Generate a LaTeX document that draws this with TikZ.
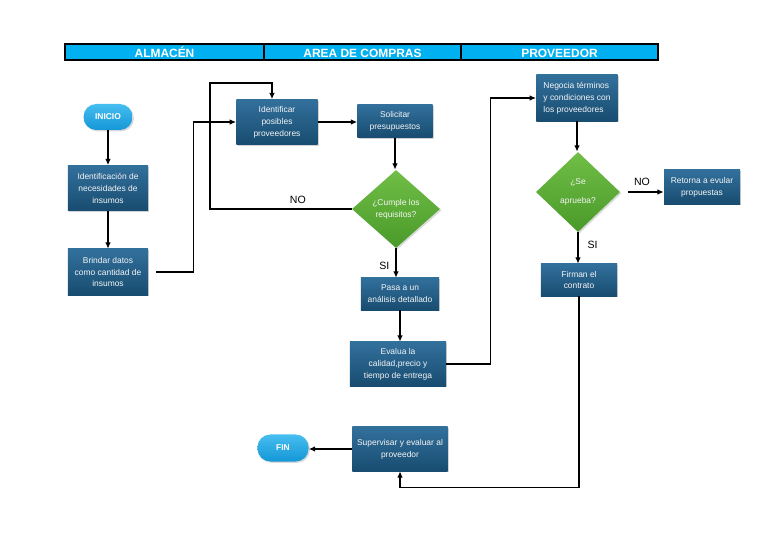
\documentclass[tikz,border=0pt]{standalone}
\usepackage{fontspec}
\setmainfont{Liberation Sans}
\usetikzlibrary{arrows.meta,positioning,shapes.geometric,shadows}
\definecolor{carril}{RGB}{0,176,240}
\definecolor{cajaA}{RGB}{50,112,156}
\definecolor{cajaB}{RGB}{24,76,112}
\definecolor{romboA}{RGB}{112,190,70}
\definecolor{romboB}{RGB}{74,154,42}
\definecolor{pildoraA}{RGB}{70,190,240}
\definecolor{pildoraB}{RGB}{20,150,215}
\tikzset{lane/.style={draw=black,line width=0.8pt,fill=carril,text=white,font=\fontsize{8.5}{10}\selectfont\bfseries,
    minimum height=0.4cm,inner sep=0pt,text height=1.7ex,text depth=0.2ex},
  box/.style={top color=cajaA,bottom color=cajaB,draw=none,align=center,text=white!92!gray,inner sep=2pt,
    drop shadow={opacity=0.35,shadow xshift=1pt,shadow yshift=-1pt}},
  pill/.style={top color=pildoraA,bottom color=pildoraB,rounded corners=0.32cm,text=white,font=\fontsize{6}{7}\selectfont\bfseries,
    drop shadow={opacity=0.3,shadow xshift=1pt,shadow yshift=-1pt}},
  decision/.style={diamond,top color=romboA,bottom color=romboB,align=center,text=white!92!gray,inner sep=0pt,
    drop shadow={opacity=0.3,shadow xshift=1pt,shadow yshift=-1pt}},
  lbl/.style={font=\fontsize{7.5}{8}\selectfont,text=black},
  arr/.style={-{Latex[length=1.6mm,width=1.4mm]},line width=0.9pt}}
\begin{document}
\begin{tikzpicture}[x=0.025cm,y=-0.025cm,font=\fontsize{6}{8.5}\selectfont]
\useasboundingbox (0,0) rectangle (768,543);
% carriles
\node[lane,minimum width=4.975cm] (almacen) at (164.5,52) {ALMACÉN};
\node[lane,minimum width=4.925cm] (compras) at (362.5,52) {AREA DE COMPRAS};
\node[lane,minimum width=4.925cm] (proveedor) at (559.5,52) {PROVEEDOR};
% almacen
\node[pill,minimum width=1.225cm,minimum height=0.65cm] (inicio) at (108,117) {INICIO};
\node[box,minimum width=2cm,minimum height=1.125cm] (necesidades) at (108,188) {Identificación de\\necesidades de\\insumos};
\node[box,minimum width=2cm,minimum height=1.15cm] (brindar) at (108,272) {Brindar datos\\como cantidad de\\insumos};
% area de compras
\node[box,minimum width=2.03cm,minimum height=1.125cm] (identificar) at (277,122) {Identificar\\posibles\\proveedores};
\node[box,minimum width=1.875cm,minimum height=0.825cm] (solicitar) at (395,121) {Solicitar\\presupuestos};
\node[decision,minimum width=2.2cm,minimum height=1.95cm] (cumple) at (396,209) {¿Cumple los\\requisitos?};
\node[box,minimum width=1.95cm,minimum height=0.8cm] (pasa) at (400,294) {Pasa a un\\análisis detallado};
\node[box,minimum width=2.4cm,minimum height=1.1cm] (evalua) at (398,364) {Evalua la\\calidad,precio y\\tiempo de entrega};
\node[box,minimum width=2.375cm,minimum height=1.1cm] (supervisar) at (400,449) {Supervisar y evaluar al\\proveedor};
\node[pill,minimum width=1.275cm,minimum height=0.675cm] (fin) at (283,448) {FIN};
% proveedor
\node[box,minimum width=2.03cm,minimum height=1.15cm,align=left] (negocia) at (577,98) {Negocia términos\\y condiciones con\\los proveedores};
\node[decision,minimum width=2.1cm,minimum height=2.0cm,font=\fontsize{6}{13}\selectfont] (aprueba) at (578,192) {¿Se\\aprueba?};
\node[box,minimum width=1.9cm,minimum height=0.85cm] (retorna) at (702,187) {Retorna a evular\\propuestas};
\node[box,minimum width=1.9cm,minimum height=0.8cm] (firman) at (579,280) {Firman el\\contrato};
\coordinate (vuelta) at (210,83);
% conectores
\draw[arr] (inicio) -- (necesidades);
\draw[arr] (necesidades) -- (brindar);
\draw[arr] ([xshift=0.2cm]brindar.east) -- ++(37,0) |- (identificar.west);
\draw[arr] (identificar.east) -- (identificar.east -| solicitar.west);
\draw[arr] (solicitar.south) -- (solicitar.south |- cumple.north);
\draw[arr] (cumple.west) -- node[lbl,pos=0.38,above]{NO} (cumple.west -| vuelta) -- (vuelta) -| ([xshift=-0.125cm]identificar.north);
\draw[arr] (cumple.south) -- node[lbl,pos=0.6,left=1pt]{SI} (cumple.south |- pasa.north);
\draw[arr] (pasa.south) -- (pasa.south |- evalua.north);
\draw[arr] (evalua.east) -- ++(44,0) |- (negocia.west);
\draw[arr] (negocia.south) -- (negocia.south |- aprueba.north);
\draw[arr,shorten <=0.18cm] (aprueba.east) -- node[lbl,above=1pt]{NO} (aprueba.east -| retorna.west);
\draw[arr] (aprueba.south) -- node[lbl,pos=0.4,right=3pt]{SI} (aprueba.south |- firman.north);
\draw[arr] (firman.south) -- ++(0,191) -| (supervisar.south);
\draw[arr] (supervisar.west) -- (supervisar.west -| fin.east);
\end{tikzpicture}
\end{document}
